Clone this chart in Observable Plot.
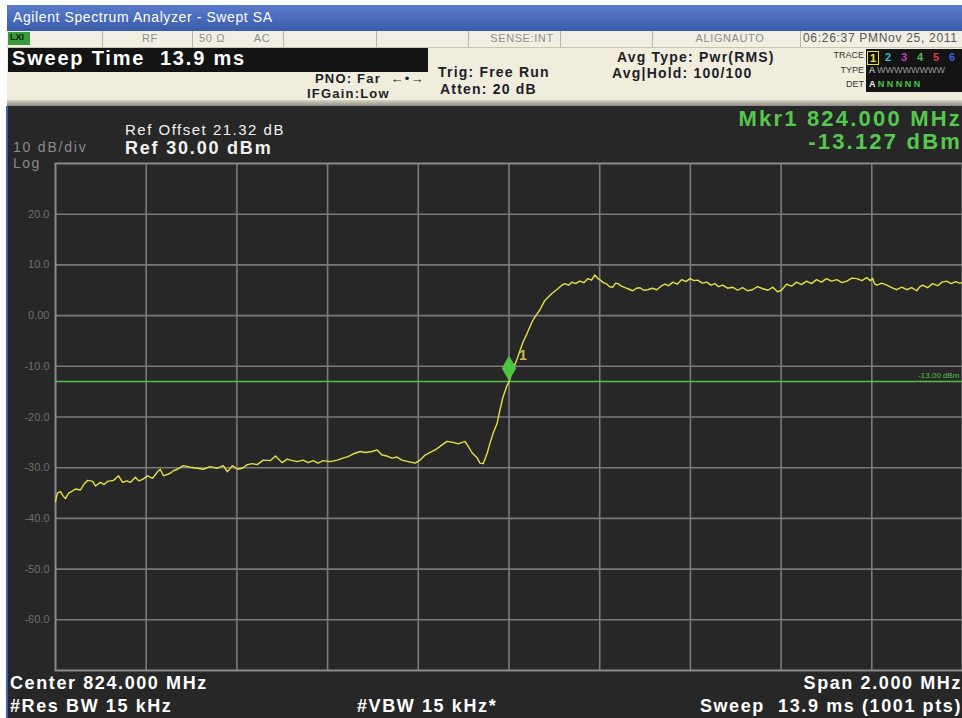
<!DOCTYPE html>
<html>
<head>
<meta charset="utf-8">
<script src="https://cdn.jsdelivr.net/npm/d3@7"></script>
<script src="https://cdn.jsdelivr.net/npm/@observablehq/plot@0.6"></script>
<style>
  html, body { margin: 0; padding: 0; background: #ffffff; }
  #root { position: relative; width: 962px; height: 718px; overflow: hidden; font-family: "Liberation Sans", Arial, sans-serif; background: #ffffff; }
  .abs { position: absolute; white-space: nowrap; }
  .hdr { color: #1d1d2a; font-weight: bold; font-size: 14px; letter-spacing: 1.2px; }
  .cell { color: #8d8d8d; font-size: 11px; letter-spacing: 0.6px; }
  .bot { color: #ffffff; font-weight: bold; font-size: 18px; letter-spacing: 1.6px; }
  .lbl { font-size: 9px; color: #333; line-height: 1; text-align: right; right: 98px; }
</style>
</head>
<body>
<div id="root">
  <!-- title bar -->
  <div class="abs" style="left:7px;top:5px;width:955px;height:26px;background:linear-gradient(#5a7bcc,#3b5ca9);"></div>
  <div class="abs" style="left:13px;top:9px;color:#ffffff;font-size:14px;letter-spacing:0.6px;">Agilent Spectrum Analyzer - Swept SA</div>
  <!-- status row -->
  <div class="abs" style="left:7px;top:31px;width:955px;height:16px;background:#f1efe3;border-bottom:1px solid #c9c6b6;"></div>
  <div class="abs" style="left:8px;top:32px;width:22px;height:13px;background:#3a9a3a;"></div>
  <div class="abs" style="left:10px;top:32px;font-size:9px;color:#102010;font-weight:bold;">LXI</div>
  <div id="cells"></div>
  <!-- header area -->
  <div class="abs" style="left:7px;top:48px;width:955px;height:53px;background:#f0eddc;"></div>
  <div class="abs" style="left:8px;top:48px;width:420px;height:24px;background:#141414;"></div>
  <div class="abs" style="left:12px;top:47px;color:#ffffff;font-weight:bold;font-size:20px;letter-spacing:1.8px;">Sweep Time&nbsp; 13.9 ms</div>
  <div class="abs hdr" style="left:315px;top:71px;font-size:13px;">PNO: Far &nbsp;<span style="font-weight:normal">&larr;&bull;&rarr;</span></div>
  <div class="abs hdr" style="left:307px;top:86px;font-size:13px;">IFGain:Low</div>
  <div class="abs hdr" style="left:438px;top:64px;">Trig: Free Run</div>
  <div class="abs hdr" style="left:440px;top:81px;">Atten: 20 dB</div>
  <div class="abs hdr" style="left:617px;top:49px;">Avg Type: Pwr(RMS)</div>
  <div class="abs hdr" style="left:612px;top:65px;">Avg|Hold: 100/100</div>
  <div class="abs lbl" style="top:51px;">TRACE</div>
  <div class="abs lbl" style="top:66px;">TYPE</div>
  <div class="abs lbl" style="top:80px;">DET</div>
  <div class="abs" style="left:866px;top:49px;width:96px;height:43px;background:#141414;"></div>
  <div id="traceinfo"></div>
  <div class="abs" style="left:7px;top:100px;width:955px;height:6px;background:linear-gradient(#d8d5c6,#8e8c84);"></div>
  <!-- dark panel -->
  <div class="abs" style="left:6px;top:106px;width:2px;height:612px;background:#3d5fb0;"></div>
  <div id="panel" class="abs" style="left:8px;top:106px;width:954px;height:612px;background:#272727;"></div>
  <div class="abs" style="left:13px;top:140px;color:#8a8a8a;font-size:14px;letter-spacing:1.8px;line-height:1;">10 dB/div</div>
  <div class="abs" style="left:13px;top:156px;color:#8a8a8a;font-size:14px;letter-spacing:1.5px;line-height:1;">Log</div>
  <div class="abs" style="left:125px;top:121px;color:#f2f2f2;font-size:15px;letter-spacing:1.5px;">Ref Offset 21.32 dB</div>
  <div class="abs" style="left:125px;top:138px;color:#f2f2f2;font-size:18px;font-weight:bold;letter-spacing:1.8px;">Ref 30.00 dBm</div>
  <div class="abs" style="right:0px;top:108px;color:#55c84e;font-size:22px;font-weight:bold;letter-spacing:2.2px;line-height:1;">Mkr1 824.000 MHz</div>
  <div class="abs" style="right:0px;top:131px;color:#55c84e;font-size:22px;font-weight:bold;letter-spacing:2.2px;line-height:1;">-13.127 dBm</div>
  <div class="abs bot" style="left:10px;top:673px;">Center 824.000 MHz</div>
  <div class="abs bot" style="right:0px;top:673px;">Span 2.000 MHz</div>
  <div class="abs bot" style="left:10px;top:696px;">#Res BW 15 kHz</div>
  <div class="abs bot" style="left:357px;top:696px;">#VBW 15 kHz*</div>
  <div class="abs bot" style="right:0px;top:696px;">Sweep&nbsp; 13.9 ms (1001 pts)</div>
</div>
<script>
// ---------- data ----------
const freqMHz = [
  823.000, 823.004, 823.011, 823.017, 823.022, 823.029, 823.037, 823.044, 823.055, 823.063,
  823.071, 823.082, 823.088, 823.099, 823.107, 823.115, 823.128, 823.139, 823.148, 823.157,
  823.165, 823.176, 823.184, 823.192, 823.203, 823.214, 823.225, 823.231, 823.238, 823.253,
  823.260, 823.269, 823.282, 823.297, 823.313, 823.326, 823.341, 823.357, 823.370, 823.379,
  823.390, 823.401, 823.412, 823.423, 823.434, 823.445, 823.458, 823.474, 823.485, 823.500,
  823.511, 823.518, 823.533, 823.546, 823.557, 823.568, 823.579, 823.590, 823.606, 823.621,
  823.634, 823.645, 823.656, 823.672, 823.683, 823.698, 823.709, 823.720, 823.731, 823.742,
  823.753, 823.764, 823.778, 823.793, 823.804, 823.815, 823.826, 823.837, 823.848, 823.863,
  823.877, 823.888, 823.903, 823.910, 823.919, 823.930, 823.936, 823.943, 823.952, 823.958,
  823.965, 823.974, 823.980, 823.987, 823.996, 824.000, 824.007, 824.018, 824.024, 824.031,
  824.040, 824.051, 824.057, 824.068, 824.079, 824.095, 824.108, 824.115, 824.123, 824.131,
  824.139, 824.147, 824.156, 824.165, 824.174, 824.182, 824.189, 824.195, 824.200, 824.208,
  824.216, 824.222, 824.229, 824.235, 824.240, 824.248, 824.256, 824.265, 824.273, 824.281,
  824.289, 824.297, 824.306, 824.316, 824.326, 824.335, 824.344, 824.352, 824.361, 824.371,
  824.381, 824.390, 824.399, 824.408, 824.416, 824.426, 824.436, 824.445, 824.454, 824.462,
  824.471, 824.482, 824.493, 824.504, 824.515, 824.526, 824.537, 824.548, 824.560, 824.571,
  824.582, 824.592, 824.601, 824.612, 824.623, 824.634, 824.645, 824.656, 824.667, 824.678,
  824.689, 824.700, 824.711, 824.723, 824.734, 824.745, 824.756, 824.767, 824.778, 824.789,
  824.796, 824.802, 824.806, 824.811, 824.822, 824.833, 824.844, 824.855, 824.866, 824.877,
  824.888, 824.899, 824.905, 824.912, 824.923, 824.934, 824.945, 824.955, 824.965, 824.975,
  824.985, 824.993, 825.000
];
const levelDbm = [
  -36.7, -35.0, -34.7, -35.6, -36.1, -35.0, -34.6, -34.2, -34.4, -33.2,
  -32.5, -32.7, -33.6, -32.9, -33.3, -32.7, -32.5, -31.6, -32.9, -32.6,
  -32.9, -31.9, -32.6, -32.3, -31.6, -32.1, -30.8, -30.3, -31.6, -31.1,
  -30.6, -30.3, -29.6, -29.9, -30.1, -30.3, -29.8, -30.1, -29.6, -30.8,
  -29.6, -30.3, -30.1, -29.4, -29.2, -29.4, -28.5, -28.6, -27.7, -29.0,
  -28.3, -28.5, -28.8, -28.5, -29.0, -28.6, -29.1, -28.6, -28.8, -28.5,
  -28.1, -27.8, -27.3, -26.8, -27.0, -26.8, -26.5, -27.5, -27.7, -28.1,
  -27.9, -28.5, -28.8, -29.1, -28.5, -27.5, -27.0, -26.5, -25.8, -24.8,
  -25.0, -25.3, -24.8, -25.8, -27.1, -28.1, -29.1, -29.2, -27.1, -25.2,
  -23.2, -21.2, -18.6, -16.0, -13.7, -13.127, -11.0, -8.5, -7.0, -5.2,
  -3.5, -1.2, -0.3, 1.1, 3.0, 4.4, 5.3, 5.9, 6.3, 6.0,
  6.6, 6.3, 6.8, 6.5, 7.3, 7.0, 8.0, 7.4, 7.1, 6.5,
  6.2, 5.7, 5.6, 6.4, 6.3, 5.8, 5.5, 5.2, 4.9, 5.4,
  5.5, 5.0, 5.1, 5.4, 5.1, 5.8, 6.2, 5.9, 6.6, 6.2,
  7.1, 6.7, 7.3, 6.9, 7.0, 6.4, 6.6, 6.0, 6.3, 5.7,
  6.0, 5.4, 5.6, 5.0, 5.5, 4.9, 5.1, 5.7, 5.3, 5.0,
  5.6, 4.7, 5.0, 6.2, 5.8, 6.6, 6.1, 6.8, 6.3, 7.1,
  6.6, 7.3, 6.8, 7.1, 6.5, 6.8, 7.4, 7.3, 6.9, 7.5,
  6.9, 7.3, 6.3, 6.0, 6.4, 6.0, 5.5, 5.1, 5.6, 5.1,
  5.5, 4.9, 5.6, 6.0, 5.5, 6.3, 5.9, 6.6, 6.8, 6.3,
  6.7, 6.4, 6.5
];
const xGridMHz = [823.2, 823.4, 823.6, 823.8, 824.0, 824.2, 824.4, 824.6, 824.8];
const yGridDbm = [20, 10, 0, -10, -20, -30, -40, -50, -60];
const yTickLabels = ["20.0", "10.0", "0.00", "-10.0", "-20.0", "-30.0", "-40.0", "-50.0", "-60.0"];
const xDomainMHz = [823, 825];
const yDomainDbm = [-70, 30];
const limitDbm = -13;
const limitLabel = "-13.00 dBm";
const markerMHz = 824.000;
const markerDbm = -13.127;
const markerLabel = "1";

const statusDividers = [102, 192, 283, 376, 468, 560, 652, 800];
const statusTexts = [
  {t: "RF", cx: 150}, {t: "50 \u03A9", cx: 212}, {t: "AC", cx: 262},
  {t: "SENSE:INT", cx: 522}, {t: "ALIGNAUTO", cx: 730}
];
const statusDate = "06:26:37 PMNov 25, 2011";
const traceNums = [["1", "#e8e23a"], ["2", "#3fb8c8"], ["3", "#c040c0"], ["4", "#4cc44c"], ["5", "#d84040"], ["6", "#4060e0"]];

// ---------- header decorations ----------
const cells = document.getElementById("cells");
for (const x of statusDividers) {
  const d = document.createElement("div");
  d.className = "abs";
  d.style.cssText = `left:${x}px;top:31px;width:1px;height:16px;background:#b8b5a6;`;
  cells.appendChild(d);
}
for (const c of statusTexts) {
  const t = document.createElement("div");
  t.className = "abs cell";
  t.style.cssText = `left:${c.cx}px;top:32px;transform:translateX(-50%);`;
  t.textContent = c.t;
  cells.appendChild(t);
}
const dt = document.createElement("div");
dt.className = "abs cell";
dt.style.cssText = "left:803px;top:31px;font-size:12px;color:#555;letter-spacing:0.7px;";
dt.textContent = statusDate;
cells.appendChild(dt);

const ti = document.getElementById("traceinfo");
traceNums.forEach(([n, col], i) => {
  const s = document.createElement("div");
  s.className = "abs";
  s.style.cssText = `left:${869 + i * 16}px;top:51px;font-size:11px;font-weight:bold;color:${col};` + (i === 0 ? "border:1px solid #e8e23a;padding:0 2px;left:867px;" : "");
  s.textContent = n;
  ti.appendChild(s);
});
const typeRow = document.createElement("div");
typeRow.className = "abs";
typeRow.style.cssText = "left:869px;top:65px;font-size:9px;color:#9a9a9a;";
typeRow.innerHTML = '<span style="color:#eee">A</span> WWWWWWWW';
ti.appendChild(typeRow);
const detRow = document.createElement("div");
detRow.className = "abs";
detRow.style.cssText = "left:869px;top:79px;font-size:9px;color:#4cc44c;font-weight:bold;";
detRow.innerHTML = '<span style="color:#eee">A</span> N N N N N';
ti.appendChild(detRow);

// ---------- the chart ----------
const data = freqMHz.map((f, i) => ({f, v: levelDbm[i]}));
const chart = Plot.plot({
  width: 954,
  height: 612,
  marginLeft: 47,
  marginRight: 0,
  marginTop: 57,
  marginBottom: 48,
  style: {background: "#272727", color: "#6f6f6f", fontFamily: "Liberation Sans, Arial, sans-serif"},
  x: {domain: xDomainMHz, axis: null},
  y: {domain: yDomainDbm, axis: null},
  marks: [
    Plot.ruleX(xGridMHz, {stroke: "#7a7a7a", strokeWidth: 1.6}),
    Plot.ruleY(yGridDbm, {stroke: "#7a7a7a", strokeWidth: 1.6}),
    Plot.frame({stroke: "#8a8a8a", strokeWidth: 2}),
    Plot.axisY({
      ticks: yGridDbm,
      tickFormat: d => yTickLabels[yGridDbm.indexOf(d)],
      tickSize: 0,
      tickPadding: 6,
      fontSize: 11,
      label: null
    }),
    Plot.ruleY([limitDbm], {stroke: "#56c04a", strokeWidth: 1.6}),
    Plot.text([limitLabel], {x: xDomainMHz[1], y: limitDbm, text: d => d, textAnchor: "end", dx: -3, dy: -6, fill: "#56c04a", fontSize: 8}),
    Plot.line(data, {x: "f", y: "v", stroke: "#e4e048", strokeWidth: 1.4}),
    Plot.dot([{f: markerMHz, v: markerDbm}], {x: "f", y: "v", symbol: "diamond", r: 7.6, fill: "#4cc43e", stroke: "none", dy: -14}),
    Plot.text([markerLabel], {x: markerMHz, y: markerDbm, text: d => d, dx: 14, dy: -27, fill: "#c8c04a", fontWeight: "bold", fontSize: 14})
  ]
});
document.getElementById("panel").appendChild(chart);
</script>
</body>
</html>
